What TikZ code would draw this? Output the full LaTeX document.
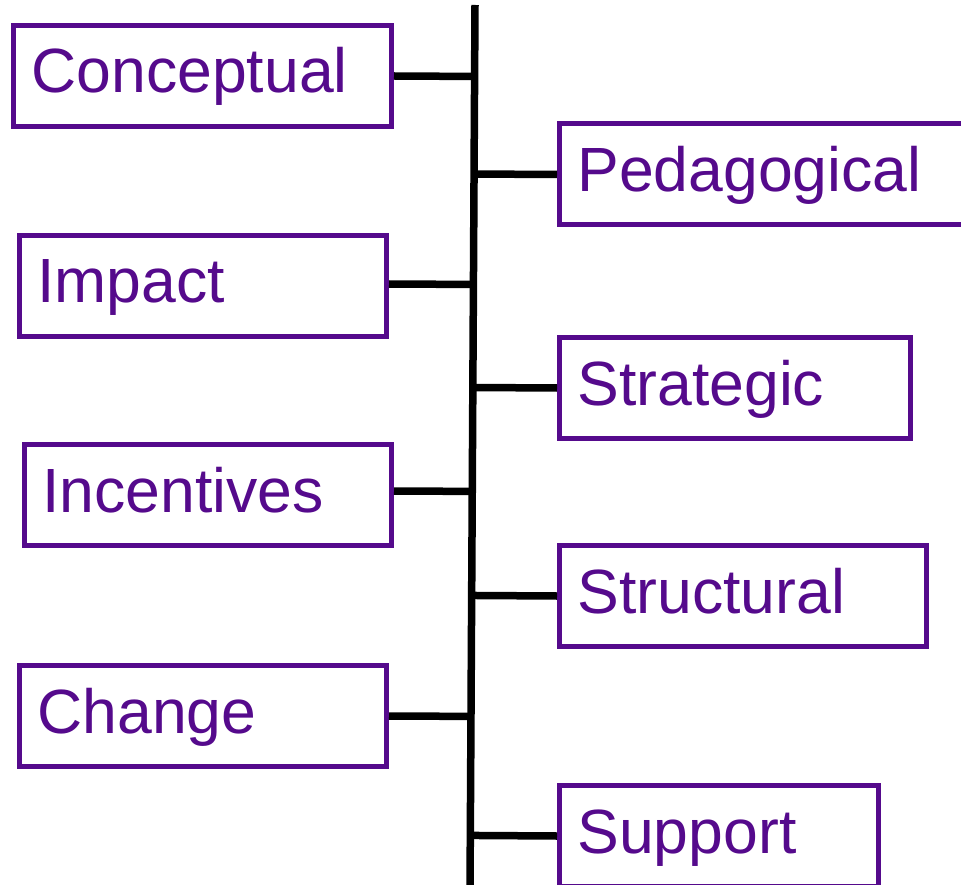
\documentclass[tikz,border=0pt]{standalone}
\usepackage{fontspec}
\setmainfont{Liberation Sans}
\usetikzlibrary{calc}
\definecolor{boxpurple}{RGB}{85,10,140}
\tikzset{
  lbox/.style={draw=boxpurple, line width=5pt, text=boxpurple, rectangle,
    inner xsep=18pt, inner ysep=0pt, align=left,
    minimum height=101pt, text height=47pt, text depth=13pt,
    font=\fontsize{62.5}{70}\selectfont},
  conn/.style={line width=7.5pt, black},
}
\begin{document}
\begin{tikzpicture}[x=1pt,y=-1pt]
\useasboundingbox (0,0) rectangle (961,885);
\clip (0,0) rectangle (961,885);
% spine
\coordinate (top) at (475,5);
\coordinate (bot) at (470,890);
\draw[conn] (top) -- (bot);
% left boxes
\node[lbox, text width=342pt] (conc) at (202.5,76) {Conceptual};
\node[lbox, text width=331pt] (imp) at (203,286) {Impact};
\node[lbox, text width=331pt] (inc) at (208,495) {Incentives};
\node[lbox, text width=331pt] (chg) at (203,716) {Change};
% right boxes
\node[lbox, text width=404.5pt] (ped) at (779.75,174.5) {Pedagogical};
\node[lbox, text width=315pt] (str) at (735,388) {Strategic};
\node[lbox, text width=331pt] (stc) at (743,596) {Structural};
\node[lbox, text width=283pt] (sup) at (719,836) {Support};
% connectors
\draw[conn] (conc.east) -- ($(top)!(conc.east)!(bot)$);
\draw[conn] ([yshift=2pt]imp.east) -- ($(top)!([yshift=2pt]imp.east)!(bot)$);
\draw[conn] ([yshift=4pt]inc.east) -- ($(top)!([yshift=4pt]inc.east)!(bot)$);
\draw[conn] (chg.east) -- ($(top)!(chg.east)!(bot)$);
\draw[conn] ($(top)!(ped.west)!(bot)$) -- (ped.west);
\draw[conn] ($(top)!(str.west)!(bot)$) -- (str.west);
\draw[conn] ($(top)!(stc.west)!(bot)$) -- (stc.west);
\draw[conn] ($(top)!(sup.west)!(bot)$) -- (sup.west);
\end{tikzpicture}
\end{document}
